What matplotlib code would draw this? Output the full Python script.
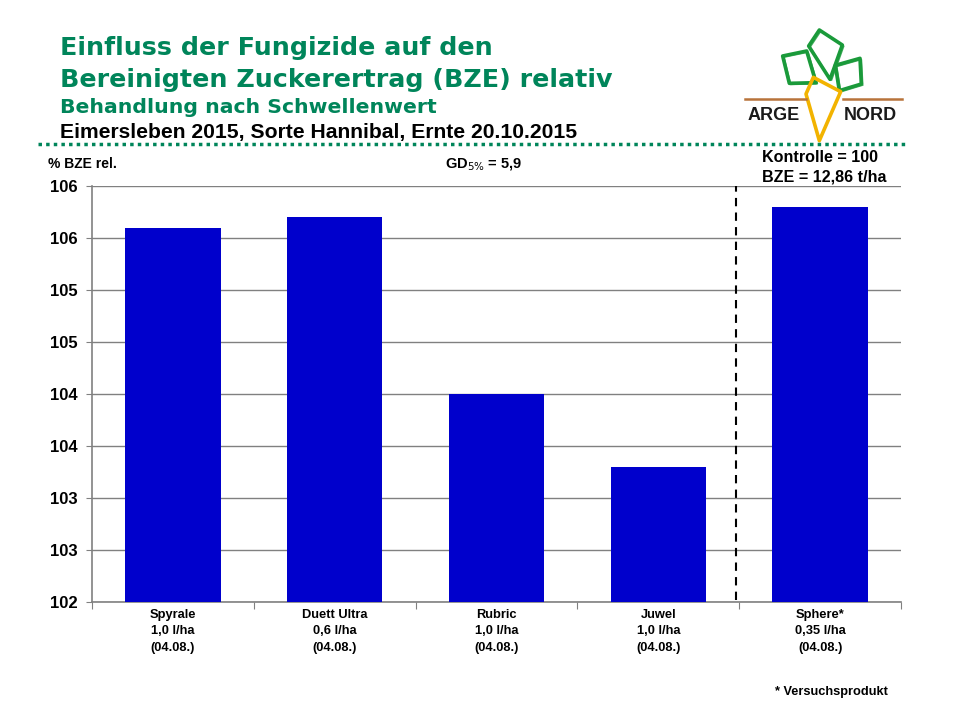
import numpy as np
import matplotlib.pyplot as plt
from matplotlib.lines import Line2D
from matplotlib.patches import Polygon

plt.rcParams['font.family'] = ['Liberation Sans', 'DejaVu Sans']

# -------------------------
# Data
# -------------------------
products = ["Spyrale", "Duett Ultra", "Rubric", "Juwel", "Sphere*"]
doses = ["1,0 l/ha", "0,6 l/ha", "1,0 l/ha", "1,0 l/ha", "0,35 l/ha"]
dates = ["(04.08.)", "(04.08.)", "(04.08.)", "(04.08.)", "(04.08.)"]
bze_rel = [105.6, 105.7, 104.0, 103.3, 105.8]
y_ticks = [102, 102.5, 103, 103.5, 104, 104.5, 105, 105.5, 106]

GREEN = '#00855a'
BAR = '#0000cc'
GRID = '#808080'

fig = plt.figure(figsize=(9.6, 7.2), dpi=100)
fig.patch.set_facecolor('white')

# -------------------------
# Titles
# -------------------------
wide = ['DejaVu Sans']
fig.text(60/960, 1-55/720, "Einfluss der Fungizide auf den", color=GREEN,
         fontsize=18.3, fontweight='bold', va='baseline', family=wide)
fig.text(60/960, 1-87/720, "Bereinigten Zuckerertrag (BZE) relativ", color=GREEN,
         fontsize=18.3, fontweight='bold', va='baseline', family=wide)
fig.text(60/960, 1-113/720, "Behandlung nach Schwellenwert", color=GREEN,
         fontsize=14.7, fontweight='bold', va='baseline', family=wide)
fig.text(60/960, 1-138/720, "Eimersleben 2015, Sorte Hannibal, Ernte 20.10.2015",
         color='black', fontsize=15.2, fontweight='bold', va='baseline')

# dotted separator
fig.add_artist(Line2D([38/960, 905/960], [1-144/720, 1-144/720], color=GREEN,
                      linewidth=2.5, linestyle=(0, (1, 1.2)), transform=fig.transFigure))

# -------------------------
# Logo
# -------------------------
lax = fig.add_axes([730/960, 1-150/720, 190/960, 130/720])
lax.set_xlim(0, 190)
lax.set_ylim(130, 0)
lax.axis('off')
s = 1/3
leaf_c = [(268, 30), (337, 75), (300, 178), (236, 78)]
leaf_l = [(158, 108), (230, 93), (258, 188), (178, 190)]
leaf_r = [(316, 136), (390, 115), (394, 192), (328, 212)]
for pts in (leaf_l, leaf_r, leaf_c):
    lax.add_patch(Polygon([(x*s, y*s) for x, y in pts], closed=True, fill=False,
                          edgecolor='#1a9a3a', linewidth=2.6, joinstyle='round'))
    # sketchy second stroke
    lax.add_patch(Polygon([(x*s + 1.5, y*s + 1.2) for x, y in pts], closed=True,
                          fill=False, edgecolor='#1a9a3a', linewidth=1.0, alpha=0.8))
carrot = [(250, 172), (332, 215), (268, 362), (228, 222)]
lax.add_patch(Polygon([(x*s, y*s) for x, y in carrot], closed=True, fill=False,
                      edgecolor='#f2b300', linewidth=2.6, joinstyle='round'))
lax.plot([45*s, 228*s], [236*s, 236*s], color='#b8733a', linewidth=1.8)
lax.plot([338*s, 515*s], [236*s, 236*s], color='#b8733a', linewidth=1.8)
lax.text(132*s, 285*s, "ARGE", fontsize=13, fontweight='bold', color='#1a1a1a',
         ha='center', va='center')
lax.text(422*s, 285*s, "NORD", fontsize=13, fontweight='bold', color='#1a1a1a',
         ha='center', va='center')

# -------------------------
# Chart
# -------------------------
ax = fig.add_axes([92/960, 1-602/720, 809/960, 416/720])
x = np.arange(len(products))
ax.bar(x, np.array(bze_rel) - 102, bottom=102, width=0.59, color=BAR, zorder=3)

ax.set_xlim(-0.5, len(products) - 0.5)
ax.set_ylim(102, 106)
ax.set_yticks(y_ticks)
ax.set_yticklabels([f"{int(np.floor(v + 0.5))}" for v in y_ticks],
                   fontsize=12, fontweight='bold')
ax.yaxis.grid(True, color=GRID, linewidth=1, zorder=0)
ax.set_axisbelow(True)

ax.set_xticks(np.arange(-0.5, len(products), 1.0))
ax.set_xticklabels([])
ax.set_xticks(x, minor=True)
ax.set_xticklabels([f"{p}\n{d}\n{t}" for p, d, t in zip(products, doses, dates)],
                   minor=True, fontsize=9.3, fontweight='bold', linespacing=1.5)
ax.tick_params(axis='x', which='minor', length=0, pad=5)
ax.tick_params(axis='x', which='major', length=5, color=GRID, direction='out')
ax.tick_params(axis='y', length=4, color=GRID, direction='out', pad=6)

for sp in ['top', 'right']:
    ax.spines[sp].set_visible(False)
for sp in ['left', 'bottom']:
    ax.spines[sp].set_color(GRID)
    ax.spines[sp].set_linewidth(1.2)

# separator between registered products and trial product
ax.plot([3.48, 3.48], [102.02, 106.0], color='black', linestyle=(0, (4, 3)),
        linewidth=1.5, zorder=4, clip_on=False)

# -------------------------
# Annotations
# -------------------------
fig.text(48/960, 1-168/720, "% BZE rel.", fontsize=10, fontweight='bold', va='baseline')
fig.text(445/960, 1-168/720, r"GD$_{5\%}$ = 5,9", fontsize=10.5, fontweight='bold',
         va='baseline')
fig.text(762/960, 1-162/720, "Kontrolle = 100", fontsize=11.6, fontweight='bold',
         va='baseline')
fig.text(762/960, 1-182/720, "BZE = 12,86 t/ha", fontsize=11.6, fontweight='bold',
         va='baseline')
fig.text(775/960, 1-695/720, "* Versuchsprodukt", fontsize=9.2, fontweight='bold',
         va='baseline')

fig.savefig("out.png", dpi=100)
